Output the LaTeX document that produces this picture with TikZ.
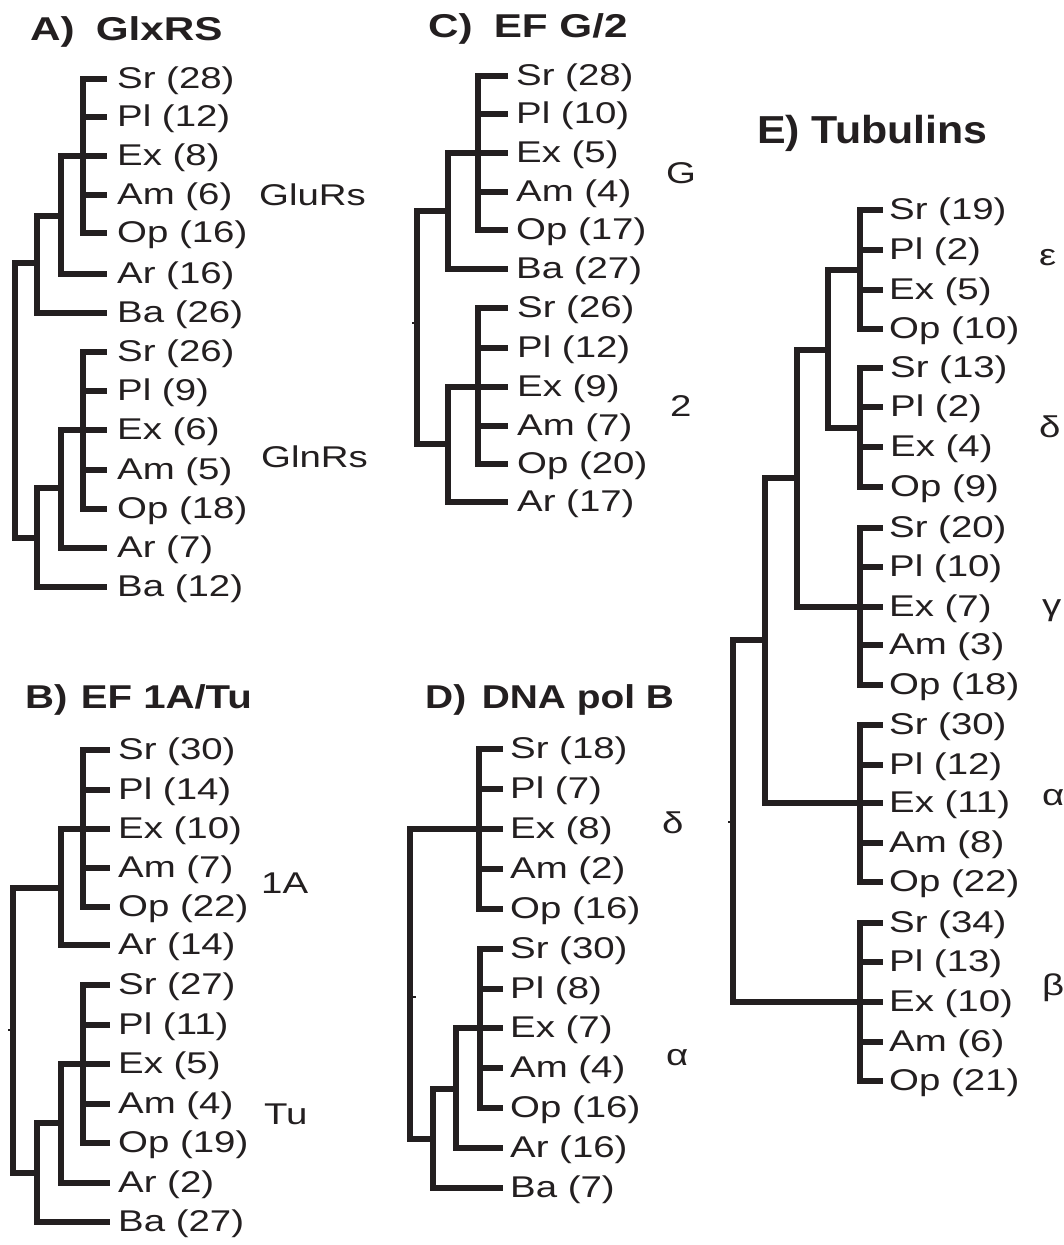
\documentclass[tikz,border=0pt]{standalone}
\usepackage{fontspec}
\setmainfont{Liberation Sans}[FakeStretch=1.28]
\newfontfamily\titleEfont{Liberation Sans}[FakeStretch=1.1]
\definecolor{ink}{RGB}{35,31,32}
\tikzset{
  hbr/.style={line width=5.4pt, line cap=butt, draw=ink},
  vbr/.style={line width=5.4pt, line cap=rect, draw=ink},
  tick/.style={line width=2.5pt, line cap=butt, draw=ink},
  lf/.style={anchor=base west, inner sep=0pt, text=ink, font=\fontsize{30}{31}\selectfont},
  grp/.style={anchor=base west, inner sep=0pt, text=ink, font=\fontsize{30}{31}\selectfont},
  ttl/.style={anchor=base west, inner sep=0pt, text=ink, font=\bfseries\fontsize{33}{34}\selectfont},
}
% #1 prefix, #2 x start, #3 x end, #4 text x, #5 list y/label
\newcommand{\myleaves}[5]{%
  \foreach \yy/\lbl in {#5} {
    \draw[hbr] (#2,\yy) -- (#3,\yy);
    \node[lf] (#1-\yy) at (#4,\yy+9.5) {\lbl};
  }%
}
\begin{document}
\begin{tikzpicture}[x=1pt,y=-1pt]
\useasboundingbox (0,0) rectangle (1063,1245);

% ---------------- A) GlxRS ----------------
\node[ttl] (tA) at (30,40) {A)\hspace{21pt}GlxRS};
\myleaves{au}{83}{107}{117}{79/Sr (28),117/Pl (12),156/Ex (8),195/Am (6),233/Op (16)}
\draw[vbr] (83,79) -- (83,233);
\myleaves{au}{61}{107}{117}{274/Ar (16)}
\draw[hbr] (61,156) -- (83,156);
\draw[vbr] (61,156) -- (61,274);
\myleaves{au}{37}{107}{117}{313/Ba (26)}
\draw[hbr] (37,216) -- (61,216);
\draw[vbr] (37,216) -- (37,313);
\draw[hbr] (15,263) -- (37,263);
\myleaves{al}{83}{107}{117}{352/Sr (26),391/Pl (9),430/Ex (6),470/Am (5),509/Op (18)}
\draw[vbr] (83,352) -- (83,509);
\myleaves{al}{61}{107}{117}{548/Ar (7)}
\draw[hbr] (61,430) -- (83,430);
\draw[vbr] (61,430) -- (61,548);
\myleaves{al}{37}{107}{117}{587/Ba (12)}
\draw[hbr] (37,488) -- (61,488);
\draw[vbr] (37,488) -- (37,587);
\draw[hbr] (15,538) -- (37,538);
\draw[vbr] (15,263) -- (15,538);
\node[grp] (gA1) at (259,205) {GluRs};
\node[grp] (gA2) at (261,467) {GlnRs};

% ---------------- B) EF 1A/Tu ----------------
\node[ttl] (tB) at (25,708) {\scalebox{0.95}[1]{B)\hspace{14pt}EF 1A/Tu}};
\myleaves{bu}{83}{110}{118}{750/Sr (30),790/Pl (14),829/Ex (10),868/Am (7),907/Op (22)}
\draw[vbr] (83,750) -- (83,907);
\myleaves{bu}{61}{110}{118}{945/Ar (14)}
\draw[hbr] (61,829) -- (83,829);
\draw[vbr] (61,829) -- (61,945);
\draw[hbr] (13,888) -- (61,888);
\myleaves{bl}{83}{110}{118}{985/Sr (27),1025/Pl (11),1064/Ex (5),1104/Am (4),1143/Op (19)}
\draw[vbr] (83,985) -- (83,1143);
\myleaves{bl}{61}{110}{118}{1183/Ar (2)}
\draw[hbr] (61,1064) -- (83,1064);
\draw[vbr] (61,1064) -- (61,1183);
\myleaves{bl}{37}{110}{118}{1222/Ba (27)}
\draw[hbr] (37,1123) -- (61,1123);
\draw[vbr] (37,1123) -- (37,1222);
\draw[hbr] (13,1173) -- (37,1173);
\draw[vbr] (13,888) -- (13,1173);
\draw[tick] (8,1030) -- (13,1030);
\node[grp] (gB1) at (261,893) {1A};
\node[grp] (gB2) at (264,1124) {Tu};

% ---------------- C) EF G/2 ----------------
\node[ttl] (tC) at (428,37) {C)\hspace{21pt}EF G/2};
\myleaves{cu}{478}{508}{516}{76/Sr (28),114/Pl (10),153/Ex (5),192/Am (4),230/Op (17)}
\draw[vbr] (478,76) -- (478,230);
\myleaves{cu}{448}{508}{516}{269/Ba (27)}
\draw[hbr] (448,153) -- (478,153);
\draw[vbr] (448,153) -- (448,269);
\draw[hbr] (417,211) -- (448,211);
\myleaves{cl}{478}{508}{517}{308/Sr (26),348/Pl (12),387/Ex (9),426/Am (7),464/Op (20)}
\draw[vbr] (478,308) -- (478,464);
\myleaves{cl}{448}{508}{517}{502/Ar (17)}
\draw[hbr] (448,387) -- (478,387);
\draw[vbr] (448,387) -- (448,502);
\draw[hbr] (417,444) -- (448,444);
\draw[vbr] (417,211) -- (417,444);
\draw[tick] (412,323) -- (417,323);
\node[grp] (gC1) at (666,183) {G};
\node[grp] (gC2) at (670,416) {2};

% ---------------- D) DNA pol B ----------------
\node[ttl] (tD) at (425,708) {\scalebox{0.92}[1]{D)\hspace{17pt}DNA pol B}};
\myleaves{du}{479}{503}{510}{749/Sr (18),789/Pl (7),829/Ex (8),869/Am (2),909/Op (16)}
\draw[vbr] (479,749) -- (479,909);
\draw[hbr] (410,829) -- (479,829);
\myleaves{dl}{480}{503}{510}{949/Sr (30),989/Pl (8),1028/Ex (7),1068/Am (4),1108/Op (16)}
\draw[vbr] (480,949) -- (480,1108);
\myleaves{dl}{456}{503}{510}{1148/Ar (16)}
\draw[hbr] (456,1028) -- (480,1028);
\draw[vbr] (456,1028) -- (456,1148);
\myleaves{dl}{433}{503}{510}{1188/Ba (7)}
\draw[hbr] (433,1089) -- (456,1089);
\draw[vbr] (433,1089) -- (433,1188);
\draw[hbr] (410,1139) -- (433,1139);
\draw[vbr] (410,829) -- (410,1139);
\draw[tick] (410,997) -- (416,997);
\node[grp] (gD1) at (662,833) {δ};
\node[grp] (gD2) at (666,1065) {α};

% ---------------- E) Tubulins ----------------
\node[anchor=base west, inner sep=0pt, text=ink, font=\titleEfont\bfseries\fontsize{39}{40}\selectfont] (tE) at (757,143) {E) Tubulins};
\myleaves{ee}{860}{883}{889}{210/Sr (19),250/Pl (2),290/Ex (5),329/Op (10)}
\draw[vbr] (860,210) -- (860,329);
\myleaves{ed}{860}{883}{890}{368/Sr (13),407/Pl (2),447/Ex (4),487/Op (9)}
\draw[vbr] (860,368) -- (860,487);
\draw[hbr] (828,270) -- (860,270);
\draw[hbr] (828,428) -- (860,428);
\draw[vbr] (828,270) -- (828,428);
\draw[hbr] (797,350) -- (828,350);
\myleaves{eg}{860}{883}{889}{528/Sr (20),567/Pl (10),607/Ex (7),645/Am (3),685/Op (18)}
\draw[vbr] (860,528) -- (860,685);
\draw[hbr] (797,607) -- (860,607);
\draw[vbr] (797,350) -- (797,607);
\draw[hbr] (765,478) -- (797,478);
\myleaves{ea}{860}{883}{889}{725/Sr (30),765/Pl (12),803/Ex (11),843/Am (8),882/Op (22)}
\draw[vbr] (860,725) -- (860,882);
\draw[hbr] (765,803) -- (860,803);
\draw[vbr] (765,478) -- (765,803);
\draw[hbr] (733,640) -- (765,640);
\myleaves{eb}{860}{883}{889}{923/Sr (34),962/Pl (13),1002/Ex (10),1042/Am (6),1081/Op (21)}
\draw[vbr] (860,923) -- (860,1081);
\draw[hbr] (733,1002) -- (860,1002);
\draw[vbr] (733,640) -- (733,1002);
\draw[tick] (728,822) -- (733,822);
\node[grp] (gE1) at (1039,265) {ε};
\node[grp] (gE2) at (1039,437) {δ};
\node[grp] (gE3) at (1042,615) {γ};
\node[grp] (gE4) at (1042,805) {α};
\node[grp] (gE5) at (1042,995) {β};
\end{tikzpicture}
\end{document}
